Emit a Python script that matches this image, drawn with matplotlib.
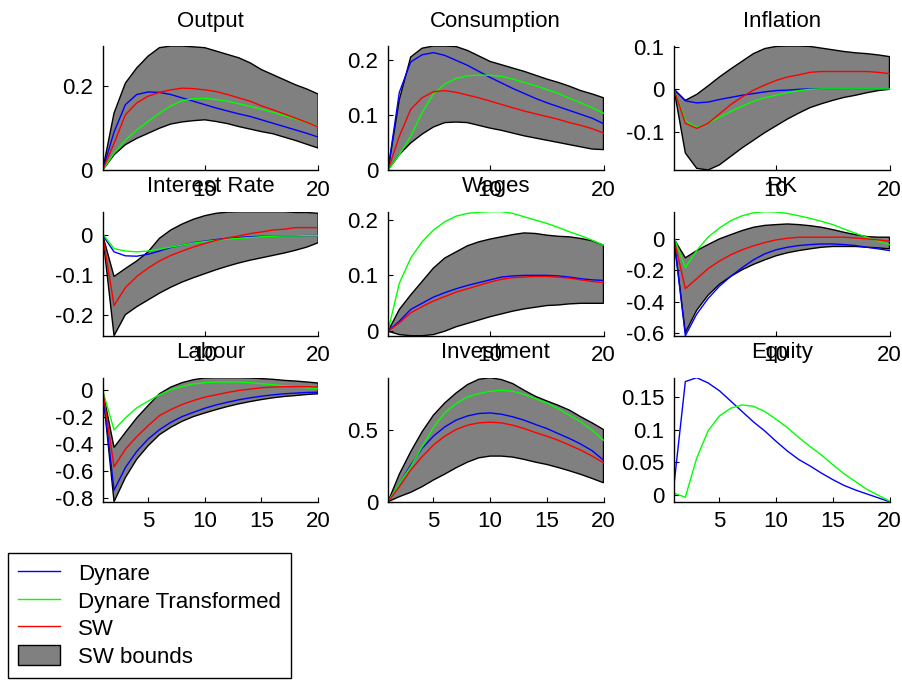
import matplotlib.pyplot as plt
import numpy as np
from matplotlib.lines import Line2D
from matplotlib.patches import Patch

plt.rcParams["font.family"] = ["Liberation Sans", "DejaVu Sans"]

periods = np.arange(1, 21)

# impulse responses, 20 periods each
output_dynare = [0, 0.09, 0.155, 0.179, 0.185, 0.184, 0.179, 0.171, 0.163, 0.155,
                 0.147, 0.14, 0.133, 0.127, 0.119, 0.111, 0.103, 0.095, 0.087, 0.078]
output_transformed = [0, 0.04, 0.071, 0.095, 0.115, 0.135, 0.152, 0.164, 0.169, 0.17,
                      0.167, 0.163, 0.157, 0.151, 0.144, 0.137, 0.129, 0.121, 0.113, 0.103]
output_sw = [0, 0.063, 0.131, 0.159, 0.175, 0.184, 0.19, 0.194, 0.193, 0.19,
             0.186, 0.179, 0.171, 0.163, 0.152, 0.143, 0.133, 0.123, 0.113, 0.102]
output_lower = [0, 0.036, 0.06, 0.075, 0.087, 0.099, 0.109, 0.114, 0.117, 0.119,
                0.115, 0.11, 0.103, 0.097, 0.091, 0.086, 0.078, 0.07, 0.061, 0.052]
output_upper = [0, 0.135, 0.206, 0.242, 0.27, 0.29, 0.294, 0.294, 0.292, 0.29,
                0.282, 0.274, 0.266, 0.254, 0.238, 0.226, 0.214, 0.202, 0.192, 0.18]

cons_dynare = [0, 0.141, 0.196, 0.209, 0.213, 0.208, 0.199, 0.19, 0.179, 0.168,
               0.158, 0.148, 0.139, 0.13, 0.122, 0.115, 0.108, 0.101, 0.094, 0.084]
cons_transformed = [0, 0.028, 0.061, 0.104, 0.138, 0.156, 0.166, 0.171, 0.172, 0.172,
                    0.17, 0.165, 0.159, 0.153, 0.146, 0.139, 0.13, 0.122, 0.113, 0.103]
cons_sw = [0, 0.061, 0.11, 0.131, 0.142, 0.144, 0.141, 0.136, 0.131, 0.125,
           0.119, 0.113, 0.107, 0.102, 0.097, 0.092, 0.086, 0.081, 0.075, 0.067]
cons_lower = [0, 0.028, 0.049, 0.065, 0.078, 0.086, 0.087, 0.086, 0.081, 0.076,
              0.072, 0.067, 0.062, 0.058, 0.054, 0.05, 0.046, 0.042, 0.038, 0.037]
cons_upper = [0, 0.128, 0.205, 0.221, 0.225, 0.225, 0.224, 0.217, 0.207, 0.197,
              0.191, 0.185, 0.179, 0.172, 0.165, 0.159, 0.152, 0.144, 0.138, 0.131]

infl_dynare = [0, -0.027, -0.032, -0.03, -0.024, -0.019, -0.014, -0.01, -0.006, -0.003,
               -0.002, 0, 0.001, 0.001, 0.001, 0.001, 0.001, 0.001, 0.001, 0.001]
infl_transformed = [0, -0.074, -0.09, -0.08, -0.066, -0.052, -0.04, -0.028, -0.02, -0.014,
                    -0.008, -0.003, 0, 0.001, 0.001, 0.001, 0.001, 0.001, 0.001, 0.001]
infl_sw = [0, -0.08, -0.092, -0.08, -0.058, -0.036, -0.018, -0.002, 0.01, 0.021,
           0.029, 0.034, 0.04, 0.042, 0.042, 0.042, 0.042, 0.042, 0.04, 0.037]
infl_lower = [0, -0.15, -0.186, -0.19, -0.178, -0.158, -0.138, -0.12, -0.102, -0.086,
              -0.07, -0.056, -0.043, -0.034, -0.026, -0.019, -0.014, -0.008, -0.003, 0]
infl_upper = [0, -0.026, -0.012, 0.008, 0.029, 0.048, 0.066, 0.084, 0.096, 0.101,
              0.102, 0.102, 0.101, 0.097, 0.093, 0.089, 0.086, 0.084, 0.081, 0.077]

rate_dynare = [0, -0.042, -0.052, -0.053, -0.048, -0.04, -0.031, -0.025, -0.019, -0.015,
               -0.011, -0.008, -0.006, -0.004, -0.003, -0.003, -0.002, -0.002, -0.001, -0.001]
rate_transformed = [0.003, -0.034, -0.04, -0.042, -0.04, -0.035, -0.03, -0.025, -0.02, -0.016,
                    -0.013, -0.01, -0.008, -0.006, -0.004, -0.003, -0.002, -0.002, -0.001, -0.001]
rate_sw = [0, -0.177, -0.132, -0.104, -0.083, -0.065, -0.051, -0.04, -0.03, -0.021,
           -0.013, -0.007, -0.002, 0.004, 0.008, 0.013, 0.015, 0.019, 0.019, 0.019]
rate_lower = [0, -0.253, -0.2, -0.18, -0.163, -0.146, -0.131, -0.118, -0.107, -0.097,
              -0.087, -0.078, -0.07, -0.063, -0.057, -0.051, -0.045, -0.038, -0.03, -0.019]
rate_upper = [0, -0.104, -0.084, -0.065, -0.042, -0.008, 0.013, 0.028, 0.04, 0.049,
              0.055, 0.058, 0.059, 0.059, 0.059, 0.059, 0.059, 0.057, 0.057, 0.055]

wage_dynare = [0, 0.018, 0.039, 0.05, 0.061, 0.069, 0.076, 0.082, 0.087, 0.092,
               0.097, 0.099, 0.1, 0.1, 0.1, 0.099, 0.097, 0.094, 0.092, 0.091]
wage_transformed = [0, 0.086, 0.131, 0.16, 0.181, 0.196, 0.206, 0.211, 0.213, 0.214,
                    0.214, 0.211, 0.205, 0.199, 0.193, 0.186, 0.178, 0.171, 0.163, 0.154]
wage_sw = [0, 0.015, 0.033, 0.044, 0.054, 0.062, 0.07, 0.076, 0.082, 0.088,
           0.093, 0.096, 0.097, 0.098, 0.098, 0.097, 0.095, 0.092, 0.089, 0.087]
wage_lower = [0, -0.006, -0.008, -0.008, -0.006, 0, 0.008, 0.014, 0.02, 0.026,
              0.031, 0.036, 0.04, 0.043, 0.046, 0.047, 0.049, 0.05, 0.05, 0.05]
wage_upper = [0, 0.039, 0.065, 0.089, 0.113, 0.131, 0.142, 0.153, 0.16, 0.165,
              0.169, 0.173, 0.176, 0.175, 0.172, 0.17, 0.169, 0.166, 0.162, 0.154]

rk_dynare = [0, -0.615, -0.478, -0.379, -0.301, -0.238, -0.183, -0.133, -0.095, -0.069,
             -0.053, -0.042, -0.036, -0.032, -0.032, -0.036, -0.042, -0.053, -0.063, -0.074]
rk_transformed = [0.01, -0.183, -0.074, 0.011, 0.069, 0.116, 0.147, 0.166, 0.173, 0.171,
                  0.162, 0.147, 0.131, 0.112, 0.091, 0.063, 0.036, 0.011, -0.015, -0.036]
rk_sw = [0, -0.316, -0.253, -0.189, -0.141, -0.101, -0.069, -0.044, -0.023, -0.006,
         0.004, 0.011, 0.011, 0.011, 0.011, 0.011, 0.006, 0, -0.006, -0.015]
rk_lower = [0, -0.596, -0.453, -0.358, -0.288, -0.238, -0.196, -0.162, -0.133, -0.107,
            -0.088, -0.074, -0.063, -0.053, -0.048, -0.048, -0.048, -0.053, -0.057, -0.063]
rk_upper = [0, -0.12, -0.074, -0.036, 0, 0.027, 0.053, 0.074, 0.086, 0.091,
            0.095, 0.091, 0.084, 0.074, 0.059, 0.042, 0.027, 0.015, 0.011, 0.011]

lab_dynare = [0, -0.745, -0.575, -0.455, -0.363, -0.293, -0.238, -0.195, -0.163, -0.133,
              -0.108, -0.088, -0.07, -0.055, -0.043, -0.033, -0.025, -0.02, -0.015, -0.013]
lab_transformed = [0, -0.295, -0.205, -0.13, -0.08, -0.033, 0.005, 0.03, 0.048, 0.058,
                   0.063, 0.063, 0.063, 0.058, 0.05, 0.043, 0.035, 0.028, 0.02, 0.013]
lab_sw = [0, -0.57, -0.438, -0.345, -0.263, -0.188, -0.143, -0.105, -0.075, -0.05,
          -0.033, -0.015, 0, 0.01, 0.02, 0.025, 0.028, 0.028, 0.028, 0.025]
lab_lower = [0, -0.83, -0.65, -0.513, -0.413, -0.33, -0.275, -0.23, -0.195, -0.168,
             -0.143, -0.12, -0.1, -0.083, -0.068, -0.055, -0.045, -0.038, -0.03, -0.025]
lab_upper = [0, -0.425, -0.313, -0.205, -0.113, -0.025, 0.025, 0.058, 0.08, 0.093,
             0.095, 0.095, 0.095, 0.093, 0.088, 0.083, 0.075, 0.07, 0.063, 0.055]

inv_dynare = [0, 0.127, 0.253, 0.369, 0.454, 0.518, 0.565, 0.594, 0.611, 0.615,
              0.606, 0.588, 0.565, 0.535, 0.507, 0.472, 0.438, 0.399, 0.353, 0.288]
inv_transformed = [0, 0.127, 0.242, 0.38, 0.514, 0.615, 0.68, 0.726, 0.749, 0.765,
                   0.772, 0.765, 0.744, 0.714, 0.684, 0.645, 0.599, 0.553, 0.495, 0.426]
inv_sw = [0, 0.104, 0.219, 0.311, 0.392, 0.454, 0.5, 0.53, 0.546, 0.551,
          0.546, 0.53, 0.507, 0.479, 0.454, 0.426, 0.392, 0.357, 0.316, 0.27]
inv_lower = [0, 0.035, 0.065, 0.104, 0.15, 0.191, 0.235, 0.274, 0.304, 0.316,
             0.316, 0.309, 0.293, 0.274, 0.258, 0.237, 0.214, 0.189, 0.161, 0.131]
inv_upper = [0, 0.191, 0.346, 0.484, 0.599, 0.684, 0.753, 0.811, 0.848, 0.859,
             0.846, 0.818, 0.772, 0.73, 0.698, 0.668, 0.634, 0.588, 0.546, 0.5]

eq_dynare = [0.015, 0.174, 0.18, 0.172, 0.16, 0.144, 0.128, 0.112, 0.098, 0.082,
             0.067, 0.054, 0.044, 0.033, 0.023, 0.014, 0.007, 0.001, -0.005, -0.011]
eq_transformed = [0.002, -0.004, 0.056, 0.098, 0.121, 0.133, 0.138, 0.136, 0.128, 0.116,
                  0.103, 0.088, 0.074, 0.061, 0.046, 0.032, 0.02, 0.008, -0.001, -0.01]

titles = ["Output", "Consumption", "Inflation",
          "Interest Rate", "Wages", "RK",
          "Labour", "Investment", "Equity"]
series = [
    (output_dynare, output_transformed, output_sw, output_lower, output_upper),
    (cons_dynare, cons_transformed, cons_sw, cons_lower, cons_upper),
    (infl_dynare, infl_transformed, infl_sw, infl_lower, infl_upper),
    (rate_dynare, rate_transformed, rate_sw, rate_lower, rate_upper),
    (wage_dynare, wage_transformed, wage_sw, wage_lower, wage_upper),
    (rk_dynare, rk_transformed, rk_sw, rk_lower, rk_upper),
    (lab_dynare, lab_transformed, lab_sw, lab_lower, lab_upper),
    (inv_dynare, inv_transformed, inv_sw, inv_lower, inv_upper),
    (eq_dynare, eq_transformed, None, None, None),
]
yticks = [[0, 0.2], [0, 0.1, 0.2], [-0.1, 0, 0.1],
          [-0.2, -0.1, 0], [0, 0.1, 0.2], [-0.6, -0.4, -0.2, 0],
          [-0.8, -0.6, -0.4, -0.2, 0], [0, 0.5], [0, 0.05, 0.1, 0.15]]
xticks_upper = [10, 20]
xticks_bottom = [5, 10, 15, 20]
legend_labels = ["Dynare", "Dynare Transformed", "SW", "SW bounds"]

BLUE, GREEN, RED, GREY = "#0000ff", "#00ff00", "#ff0000", "#808080"
FS = 16
W, H = 902, 680

fig = plt.figure(figsize=(W / 100, H / 100), dpi=100)
col_left = [102.7, 388, 674]
row_bottom = [170, 335.7, 501.7]
ax_w, ax_h = 215.5, 124

for i, (title, (dyn, trans, sw, lo, hi)) in enumerate(zip(titles, series)):
    r, c = divmod(i, 3)
    ax = fig.add_axes([col_left[c] / W, 1 - row_bottom[r] / H, ax_w / W, ax_h / H])
    values = [dyn, trans]
    if lo is not None:
        # shaded band with a black outline, closed at the last period
        ax.fill(np.r_[periods, periods[::-1]], np.r_[lo, hi[::-1]],
                facecolor=GREY, edgecolor="black", linewidth=1.0)
        values += [sw, lo, hi]
    ax.plot(periods, dyn, color=BLUE, linewidth=1.0)
    ax.plot(periods, trans, color=GREEN, linewidth=1.0)
    if sw is not None:
        ax.plot(periods, sw, color=RED, linewidth=1.0)

    allv = np.concatenate([np.asarray(v, dtype=float) for v in values])
    ax.set_xlim(1, 20)
    ax.set_ylim(allv.min(), allv.max())

    xt = xticks_bottom if r == 2 else xticks_upper
    ax.set_xticks(xt)
    ax.set_xticklabels([str(t) for t in xt])
    ax.set_yticks(yticks[i])
    ax.set_yticklabels([f"{t:g}" for t in yticks[i]])
    ax.tick_params(direction="in", length=3.5, width=0.8, pad=7, labelsize=FS,
                   colors="black")
    for side in ("top", "right"):
        ax.spines[side].set_visible(False)
    for side in ("left", "bottom"):
        ax.spines[side].set_linewidth(1.0)
    ax.set_title(title, fontsize=FS, pad=14)

handles = [Line2D([], [], color=BLUE, linewidth=1.0),
           Line2D([], [], color=GREEN, linewidth=1.0),
           Line2D([], [], color=RED, linewidth=1.0),
           Patch(facecolor=GREY, edgecolor="black", linewidth=1.0)]
leg = fig.legend(handles, legend_labels, loc="upper left",
                 bbox_to_anchor=(8 / W, 1 - 552.7 / H), borderaxespad=0,
                 fontsize=FS, frameon=True, fancybox=False, framealpha=1,
                 edgecolor="black", handlelength=1.9, handleheight=1.0,
                 labelspacing=0.22, handletextpad=0.8, borderpad=0.45)
leg.get_frame().set_linewidth(1.0)

fig.savefig("out.png", dpi=100)
